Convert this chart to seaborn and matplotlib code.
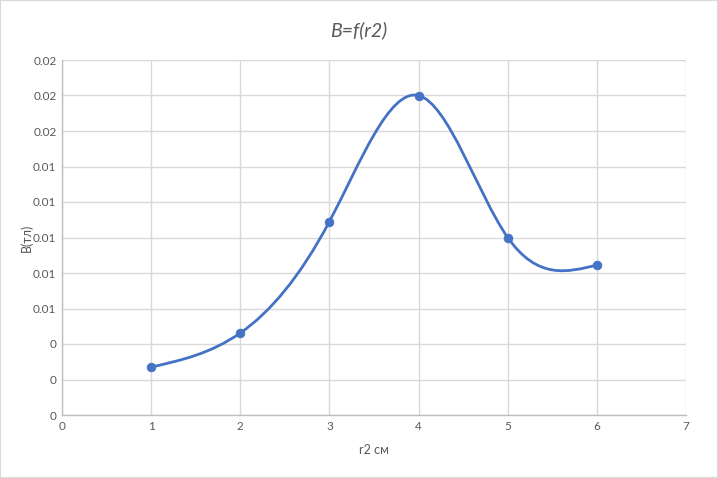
import numpy as np
import matplotlib
matplotlib.use("Agg")
import matplotlib.pyplot as plt
import seaborn as sns
import pandas as pd
from matplotlib.path import Path
from matplotlib.patches import PathPatch
from matplotlib.ticker import FuncFormatter, MultipleLocator

# data
r2_cm = [1, 2, 3, 4, 5, 6]
b_tl = [0.0027, 0.00462, 0.0109, 0.0180, 0.0100, 0.00845]

df = pd.DataFrame({"r2": r2_cm, "B": b_tl})

sns.set_theme(style="white")
plt.rcParams["font.family"] = ["Lato", "DejaVu Sans"]

blue = "#4472c4"
grey_txt = "#595959"

fig = plt.figure(figsize=(7.18, 4.78), dpi=100)
ax = fig.add_axes([62 / 718, 1 - 415 / 478, (686 - 62) / 718, (415 - 60) / 478])


# smoothed line: natural cubic spline, written as bezier segments
def smooth_path(x, y):
    x = np.asarray(x, float)
    y = np.asarray(y, float)
    n = len(x)
    h = np.diff(x)
    A = np.zeros((n, n))
    rhs = np.zeros(n)
    A[0, 0] = A[-1, -1] = 1
    for i in range(1, n - 1):
        A[i, i - 1] = h[i - 1]
        A[i, i] = 2 * (h[i - 1] + h[i])
        A[i, i + 1] = h[i]
        rhs[i] = 6 * ((y[i + 1] - y[i]) / h[i] - (y[i] - y[i - 1]) / h[i - 1])
    M = np.linalg.solve(A, rhs)
    verts = [(x[0], y[0])]
    codes = [Path.MOVETO]
    for i in range(n - 1):
        s = (y[i + 1] - y[i]) / h[i]
        d0 = s - h[i] * (2 * M[i] + M[i + 1]) / 6
        d1 = s + h[i] * (M[i] + 2 * M[i + 1]) / 6
        verts += [(x[i] + h[i] / 3, y[i] + h[i] * d0 / 3),
                  (x[i + 1] - h[i] / 3, y[i + 1] - h[i] * d1 / 3),
                  (x[i + 1], y[i + 1])]
        codes += [Path.CURVE4] * 3
    return Path(verts, codes)


ax.add_patch(PathPatch(smooth_path(df["r2"], df["B"]), fill=False,
                       edgecolor=blue, lw=2.0, zorder=3))

sns.scatterplot(data=df, x="r2", y="B", ax=ax, color=blue, s=40, edgecolor=blue, zorder=4)

ax.set_xlim(0, 7)
ax.set_ylim(0, 0.02)
ax.xaxis.set_major_locator(MultipleLocator(1))
ax.yaxis.set_major_locator(MultipleLocator(0.002))


def fmt(v, pos):
    s = f"{v:.2f}"
    return "0" if float(s) == 0 else s


ax.yaxis.set_major_formatter(FuncFormatter(fmt))
ax.xaxis.set_major_formatter(FuncFormatter(lambda v, p: f"{v:.0f}"))

ax.grid(True, color="#d9d9d9", lw=1)
ax.set_axisbelow(True)
for s in ["top", "right"]:
    ax.spines[s].set_visible(False)
for s in ["left", "bottom"]:
    ax.spines[s].set_color("#bfbfbf")
    ax.spines[s].set_linewidth(1)
ax.tick_params(axis="y", length=0, labelsize=8.5, colors=grey_txt, pad=4)
ax.tick_params(axis="x", length=0, labelsize=8.5, colors=grey_txt, pad=4)

ax.set_xlabel("r2 см", fontsize=9, color=grey_txt, labelpad=9)
ax.set_ylabel("B(тл)", fontsize=9, color=grey_txt, labelpad=0)
fig.text(0.5, 1 - 30 / 478, "B=f(r2)", ha="center", va="center",
         fontsize=14, style="italic", color=grey_txt)

fig.patches.append(plt.Rectangle((0, 0), 1, 1, transform=fig.transFigure,
                                 fill=False, edgecolor="#d9d9d9", lw=1.5))

fig.savefig("out.png", dpi=100, facecolor="white")
